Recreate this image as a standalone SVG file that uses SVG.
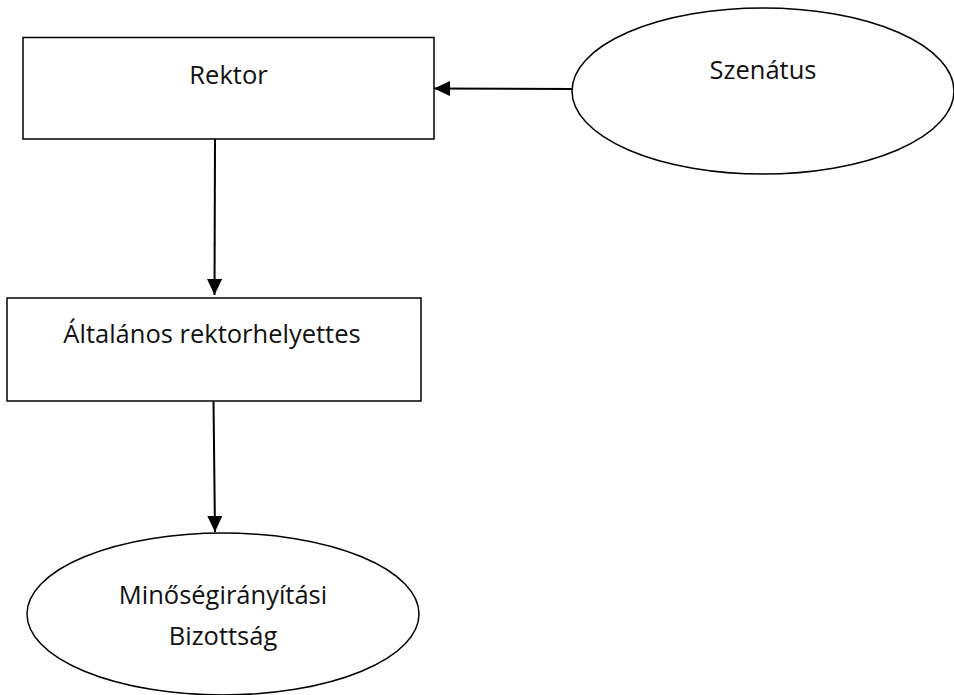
<svg xmlns="http://www.w3.org/2000/svg" width="954" height="695" viewBox="0 0 954 695">
<style>
.box{fill:#fff;stroke:#000;stroke-width:1.5}
.lbl{font-family:"Open Sans","Noto Sans",sans-serif;font-size:25.5px;fill:#111;text-anchor:middle}
.conn{stroke:#000;stroke-width:2;fill:none;marker-end:url(#ah)}
</style>
<defs>
<marker id="ah" markerUnits="userSpaceOnUse" markerWidth="16" markerHeight="15" refX="16" refY="7.5" orient="auto">
<path d="M0,0 L16,7.5 L0,15 z" fill="#000"/>
</marker>
</defs>
<rect width="954" height="695" fill="#fff"/>
<g id="rektor">
<rect class="box" x="23" y="37.5" width="411" height="101.5"/>
<text class="lbl" x="228.5" y="84">Rektor</text>
</g>
<g id="szenatus">
<ellipse class="box" cx="763" cy="91" rx="191" ry="83"/>
<text class="lbl" x="763" y="79">Szenátus</text>
</g>
<g id="altalanos">
<rect class="box" x="7" y="298" width="414" height="103"/>
<text class="lbl" x="212" y="343">Általános rektorhelyettes</text>
</g>
<g id="minoseg">
<ellipse class="box" cx="223" cy="614" rx="196" ry="81"/>
<text class="lbl" x="223" y="604">Minőségirányítási</text>
<text class="lbl" x="223" y="645">Bizottság</text>
</g>
<g id="connectors">
<path class="conn" d="M572,89 L434,88.5"/>
<path class="conn" d="M215,139 L214.5,295"/>
<path class="conn" d="M213.5,401 L215,532"/>
</g>
</svg>
